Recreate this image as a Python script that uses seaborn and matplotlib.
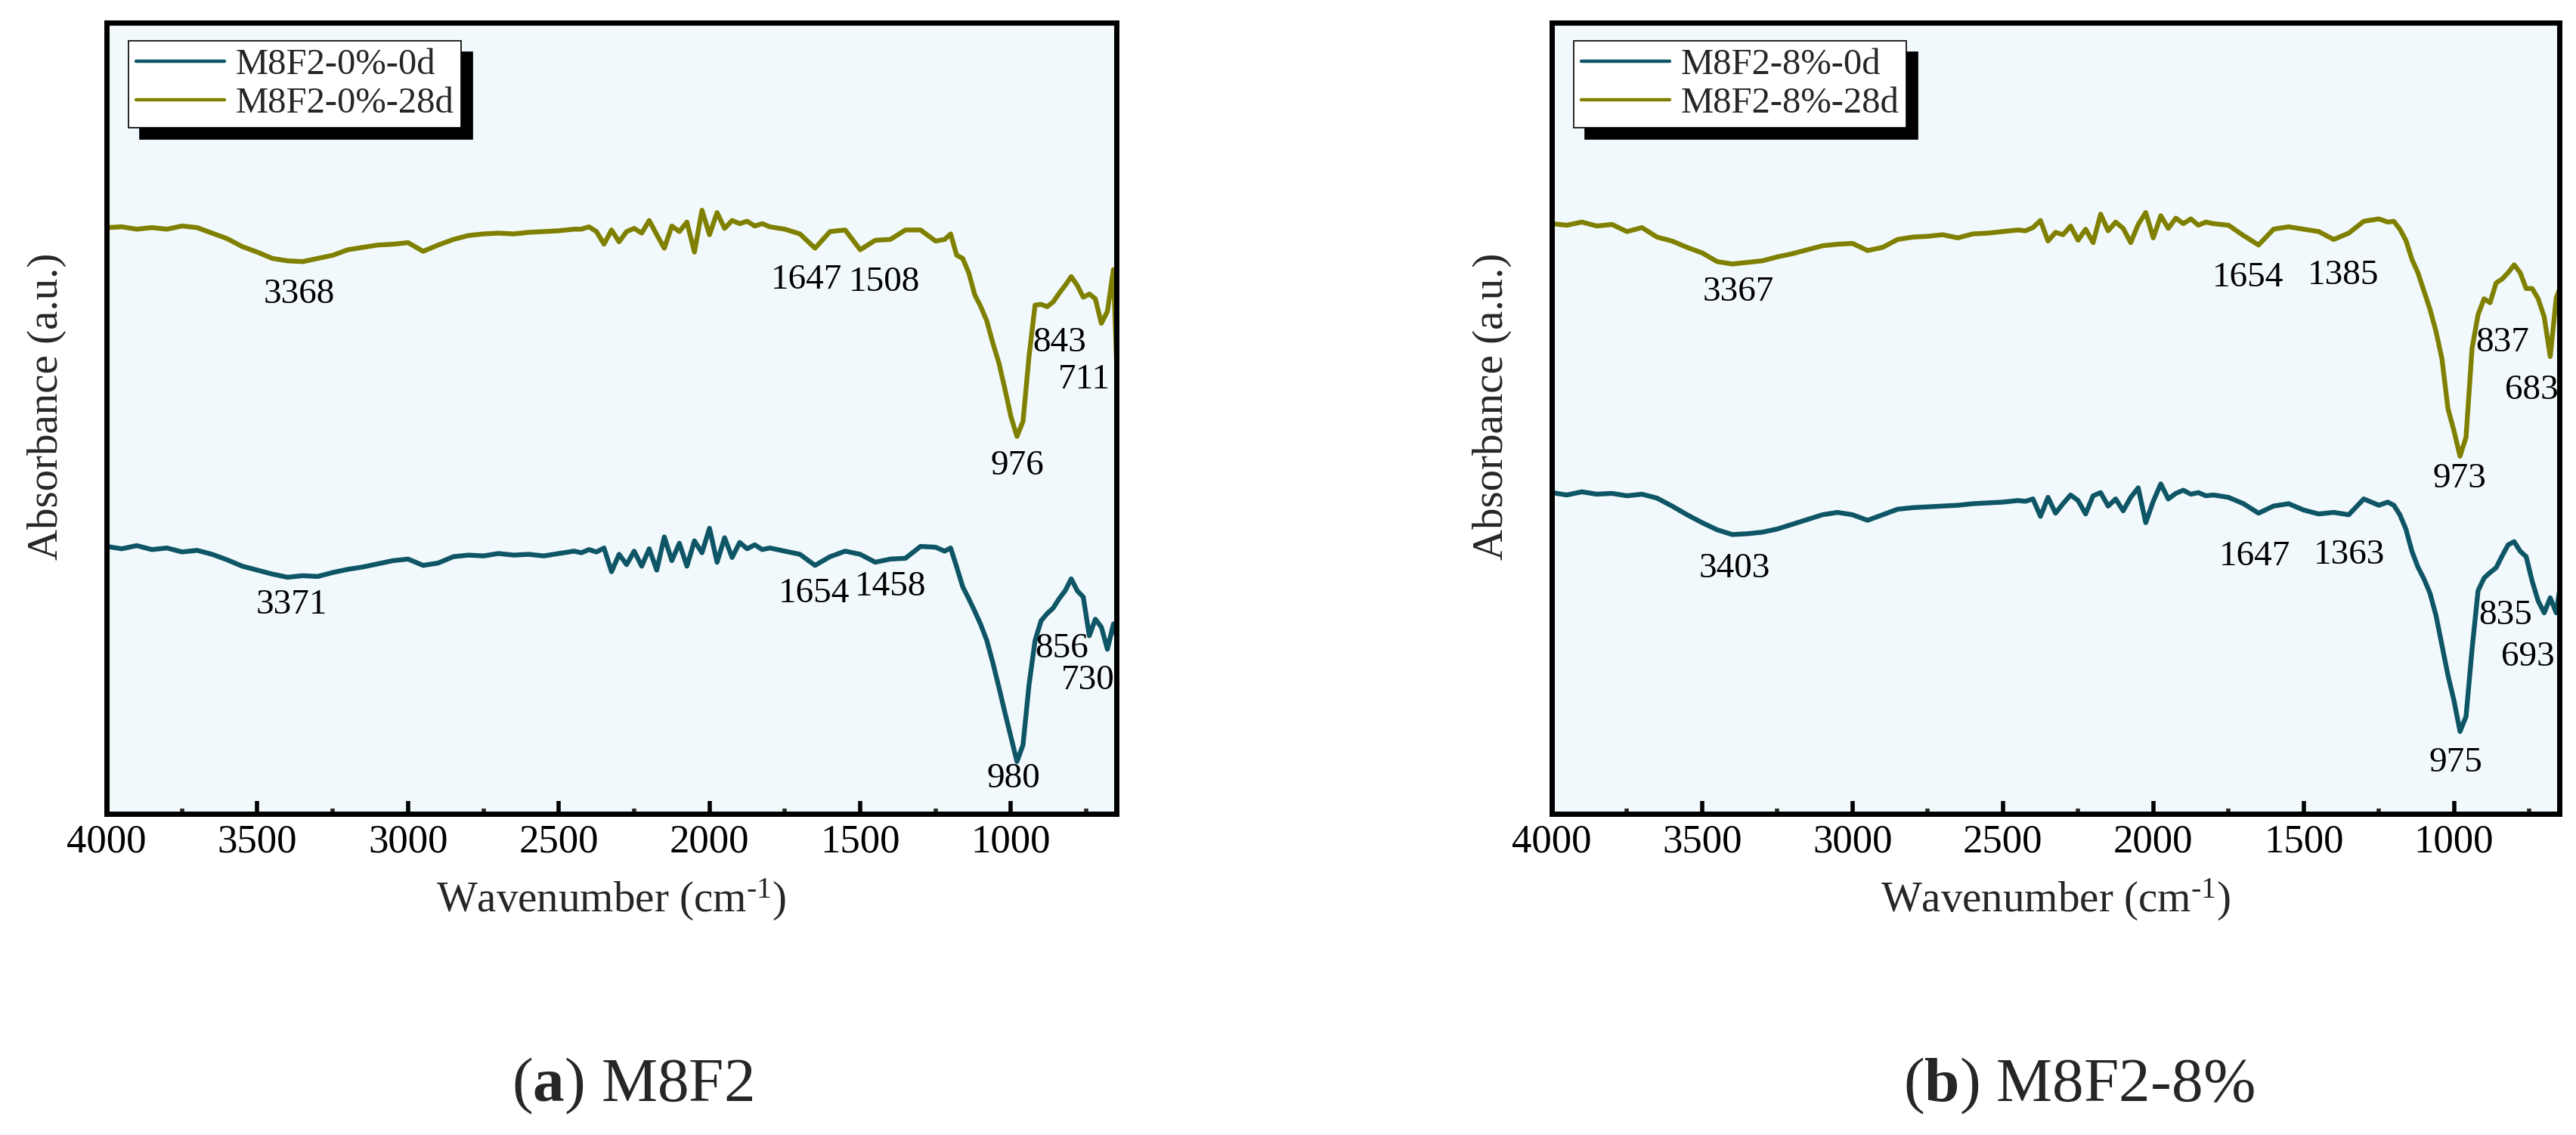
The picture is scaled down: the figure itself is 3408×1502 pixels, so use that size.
import numpy as np
import pandas as pd
import seaborn as sns
import matplotlib.pyplot as plt
from matplotlib.ticker import MultipleLocator

# wavenumber grid (cm-1) shared by all four spectra
wavenumber = [4000, 3950, 3900, 3850, 3800, 3750, 3700, 3650, 3600, 3550, 3500, 3450, 3400, 3350, 3300, 3250,
              3200, 3150, 3100, 3050, 3000, 2950, 2900, 2850, 2800, 2750, 2700, 2650, 2600, 2550, 2500, 2450,
              2425, 2400, 2375, 2350, 2325, 2300, 2275, 2250, 2225, 2200, 2175, 2150, 2125, 2100, 2075, 2050,
              2025, 2000, 1975, 1950, 1925, 1900, 1875, 1850, 1825, 1800,
              1750, 1700, 1650, 1600, 1550, 1500, 1450, 1400, 1350, 1300, 1250,
              1220, 1200, 1180, 1160, 1140, 1120, 1100, 1080, 1060, 1040, 1020, 1000, 980, 960, 940, 920,
              900, 880, 860, 840, 820, 800, 780, 760, 740, 720, 700, 680, 660, 650]

# absorbance (arbitrary, stacked)
m8f2_0_0d = [33.8, 33.5, 33.9, 33.4, 33.6, 33.1, 33.3, 32.8, 32.1, 31.3, 30.8, 30.3, 29.9, 30.1, 30.0, 30.5,
             30.9, 31.2, 31.6, 32.0, 32.2, 31.4, 31.7, 32.5, 32.7, 32.6, 32.9, 32.7, 32.8, 32.6, 32.9, 33.2,
             33.0, 33.4, 33.1, 33.6, 30.6, 32.8, 31.5, 33.2, 31.3, 33.5, 30.8, 35.0, 32.0, 34.2, 31.3, 34.5,
             33.0, 36.1, 31.8, 34.9, 32.4, 34.3, 33.5, 34.0, 33.4, 33.6,
             33.2, 32.8, 31.4, 32.5, 33.2, 32.8, 31.8, 32.2, 32.3, 33.8, 33.7,
             33.2, 33.6, 31.2, 28.7, 27.2, 25.6, 23.9, 21.9, 19.1, 16.0, 12.8, 9.7, 6.6, 8.7, 16.3, 21.9,
             24.4, 25.3, 26.0, 27.2, 28.2, 29.7, 28.2, 27.4, 22.5, 24.6, 23.6, 20.8, 24.0, 22.5]
m8f2_0_28d = [74.1, 74.2, 73.9, 74.1, 73.9, 74.3, 74.1, 73.4, 72.7, 71.7, 71.0, 70.2, 69.9, 69.8, 70.2, 70.6,
              71.3, 71.6, 71.9, 72.0, 72.2, 71.1, 71.9, 72.6, 73.1, 73.3, 73.4, 73.3, 73.5, 73.6, 73.7, 73.9,
              73.9, 74.2, 73.6, 72.0, 73.8, 72.3, 73.6, 74.0, 73.4, 75.0, 73.2, 71.5, 74.3, 73.6, 74.8, 71.0,
              76.3, 73.2, 76.0, 74.0, 75.0, 74.6, 74.9, 74.3, 74.6, 74.2,
              73.9, 73.3, 71.5, 73.6, 73.8, 71.3, 72.5, 72.6, 73.8, 73.8, 72.4,
              72.6, 73.3, 70.6, 70.2, 68.4, 65.6, 64.1, 62.3, 59.5, 57.0, 53.7, 50.2, 47.7, 49.6, 57.8, 64.3,
              64.4, 64.1, 64.7, 65.8, 66.8, 67.9, 66.8, 65.3, 65.7, 65.1, 62.0, 63.5, 68.8, 57.5]
m8f2_8_0d = [40.6, 40.3, 40.7, 40.4, 40.5, 40.2, 40.4, 39.9, 38.9, 37.8, 36.8, 35.9, 35.3, 35.4, 35.6, 36.0,
             36.6, 37.2, 37.8, 38.1, 37.8, 37.1, 37.8, 38.5, 38.7, 38.8, 38.9, 39.0, 39.2, 39.3, 39.4, 39.6,
             39.5, 39.8, 37.6, 40.0, 38.0, 39.2, 40.3, 39.6, 37.9, 40.2, 40.6, 38.9, 39.8, 38.3, 40.0, 41.2,
             36.8, 39.5, 41.7, 39.8, 40.5, 40.9, 40.4, 40.6, 40.2, 40.3,
             40.0, 39.2, 38.0, 38.9, 39.2, 38.4, 37.9, 38.1, 37.8, 39.8, 39.0,
             39.4, 39.0, 37.8, 36.0, 33.2, 31.2, 29.7, 27.9, 25.1, 21.3, 17.5, 14.3, 10.4, 12.3, 20.8, 28.2,
             29.8, 30.5, 31.1, 32.6, 34.0, 34.4, 33.2, 32.5, 29.4, 26.9, 25.4, 27.3, 25.4, 28.0]
m8f2_8_28d = [74.6, 74.4, 74.8, 74.3, 74.5, 73.6, 74.1, 72.9, 72.4, 71.6, 70.9, 69.8, 69.5, 69.7, 69.9, 70.4,
              70.8, 71.3, 71.8, 72.0, 72.1, 71.2, 71.6, 72.6, 72.9, 73.0, 73.2, 72.8, 73.3, 73.4, 73.6, 73.8,
              73.7, 74.1, 75.0, 72.4, 73.5, 73.2, 74.3, 72.5, 73.9, 72.2, 75.8, 73.7, 74.8, 74.0, 72.2, 74.5,
              76.0, 72.8, 75.6, 74.0, 75.3, 74.6, 75.2, 74.4, 74.8, 74.6,
              74.4, 73.1, 71.9, 73.9, 74.2, 73.9, 73.6, 72.6, 73.4, 74.9, 75.2,
              74.8, 74.9, 73.9, 72.5, 70.1, 68.4, 66.1, 63.8, 61.0, 57.5, 51.2, 48.4, 45.2, 47.6, 58.8, 63.1,
              65.1, 64.6, 67.1, 67.6, 68.4, 69.4, 68.4, 66.4, 66.4, 65.1, 62.8, 57.8, 65.2, 66.2]

# peak labels : text, wavenumber, height
peaks_a = [("3368", 3361, 65.6), ("1647", 1679, 67.5), ("1508", 1420, 67.2), ("843", 839, 59.5),
           ("711", 757, 54.8), ("976", 978, 44.0), ("3371", 3385, 26.4), ("1654", 1653, 27.8),
           ("1458", 1399, 28.7), ("856", 832, 20.8), ("730", 744, 16.8), ("980", 991, 4.4)]
peaks_b = [("3367", 3380, 65.9), ("1654", 1684, 67.7), ("1385", 1368, 68.0), ("837", 840, 59.5),
           ("683", 741, 53.5), ("973", 981, 42.3), ("3403", 3392, 31.0), ("1647", 1662, 32.5),
           ("1363", 1349, 32.7), ("835", 830, 25.0), ("693", 753, 19.8), ("975", 994, 6.4)]

teal = "#0E5566"
olive = "#808000"

sns.set_theme(style="ticks")
plt.rcParams["font.family"] = ["Liberation Serif", "DejaVu Serif"]
plt.rcParams["mathtext.fontset"] = "custom"
plt.rcParams["mathtext.rm"] = "Liberation Serif"
plt.rcParams["mathtext.it"] = "Liberation Serif:italic"
plt.rcParams["mathtext.bf"] = "Liberation Serif:bold"

fig = plt.figure(figsize=(17.04, 7.51), dpi=200)
fig.patch.set_facecolor("white")
ax_a = fig.add_axes([0.0414, 0.283, 0.392, 0.697])
ax_b = fig.add_axes([0.6024, 0.283, 0.3911, 0.697])

panels = [
    (ax_a, m8f2_0_0d, m8f2_0_28d, ["M8F2-0%-0d", "M8F2-0%-28d"], peaks_a),
    (ax_b, m8f2_8_0d, m8f2_8_28d, ["M8F2-8%-0d", "M8F2-8%-28d"], peaks_b),
]

for ax, s0, s28, names, peaks in panels:
    df = pd.DataFrame({
        "wn": wavenumber + wavenumber,
        "absorbance": s0 + s28,
        "sample": [names[0]] * len(wavenumber) + [names[1]] * len(wavenumber),
    })
    sns.lineplot(data=df, x="wn", y="absorbance", hue="sample", hue_order=names,
                 palette=[teal, olive], estimator=None, linewidth=2.3, ax=ax)
    ax.set_facecolor("#F2F9FC")
    ax.set_xlim(4000, 650)
    ax.set_ylim(0, 100)
    ax.xaxis.set_major_locator(MultipleLocator(500))
    ax.xaxis.set_minor_locator(MultipleLocator(250))
    ax.tick_params(axis="x", which="major", direction="in", length=6, width=2,
                   labelsize=19, pad=5, top=False, color="black", labelcolor="black")
    ax.tick_params(axis="x", which="minor", direction="in", length=2.6, width=2, top=False)
    ax.tick_params(axis="y", left=False, labelleft=False, right=False)
    for sp in ax.spines.values():
        sp.set_visible(True)
        sp.set_linewidth(2.5)
        sp.set_color("black")
    ax.set_xlabel(r"Wavenumber (cm$^{\text{-}1}$)", fontsize=20.5, labelpad=8)
    ax.set_ylabel("Absorbance (a.u.)", fontsize=20.5)
    ax.yaxis.set_label_coords(-0.04, 0.515)

    for txt, x, y in peaks:
        ax.text(x, y, txt, ha="center", va="center", fontsize=17, color="black")

    leg = ax.legend(loc="upper left", bbox_to_anchor=(0.022, 0.977), borderaxespad=0,
                    frameon=True, fancybox=False, framealpha=1, edgecolor="black",
                    facecolor="white", fontsize=17.5, handlelength=2.4, handletextpad=0.3,
                    borderpad=0.2, labelspacing=0.15,
                    shadow={"ox": 5.4, "oy": -5.4, "shade": 1.0, "alpha": 1})
    leg.get_frame().set_linewidth(0.6)
    for line in leg.get_lines():
        line.set_linewidth(1.6)

fig.text(0.2455, 0.043, r"($\mathbf{a}$) M8F2", ha="center", va="center", fontsize=30)
fig.text(0.807, 0.043, r"($\mathbf{b}$) M8F2-8%", ha="center", va="center", fontsize=30)

fig.savefig("out.png", dpi=200)
